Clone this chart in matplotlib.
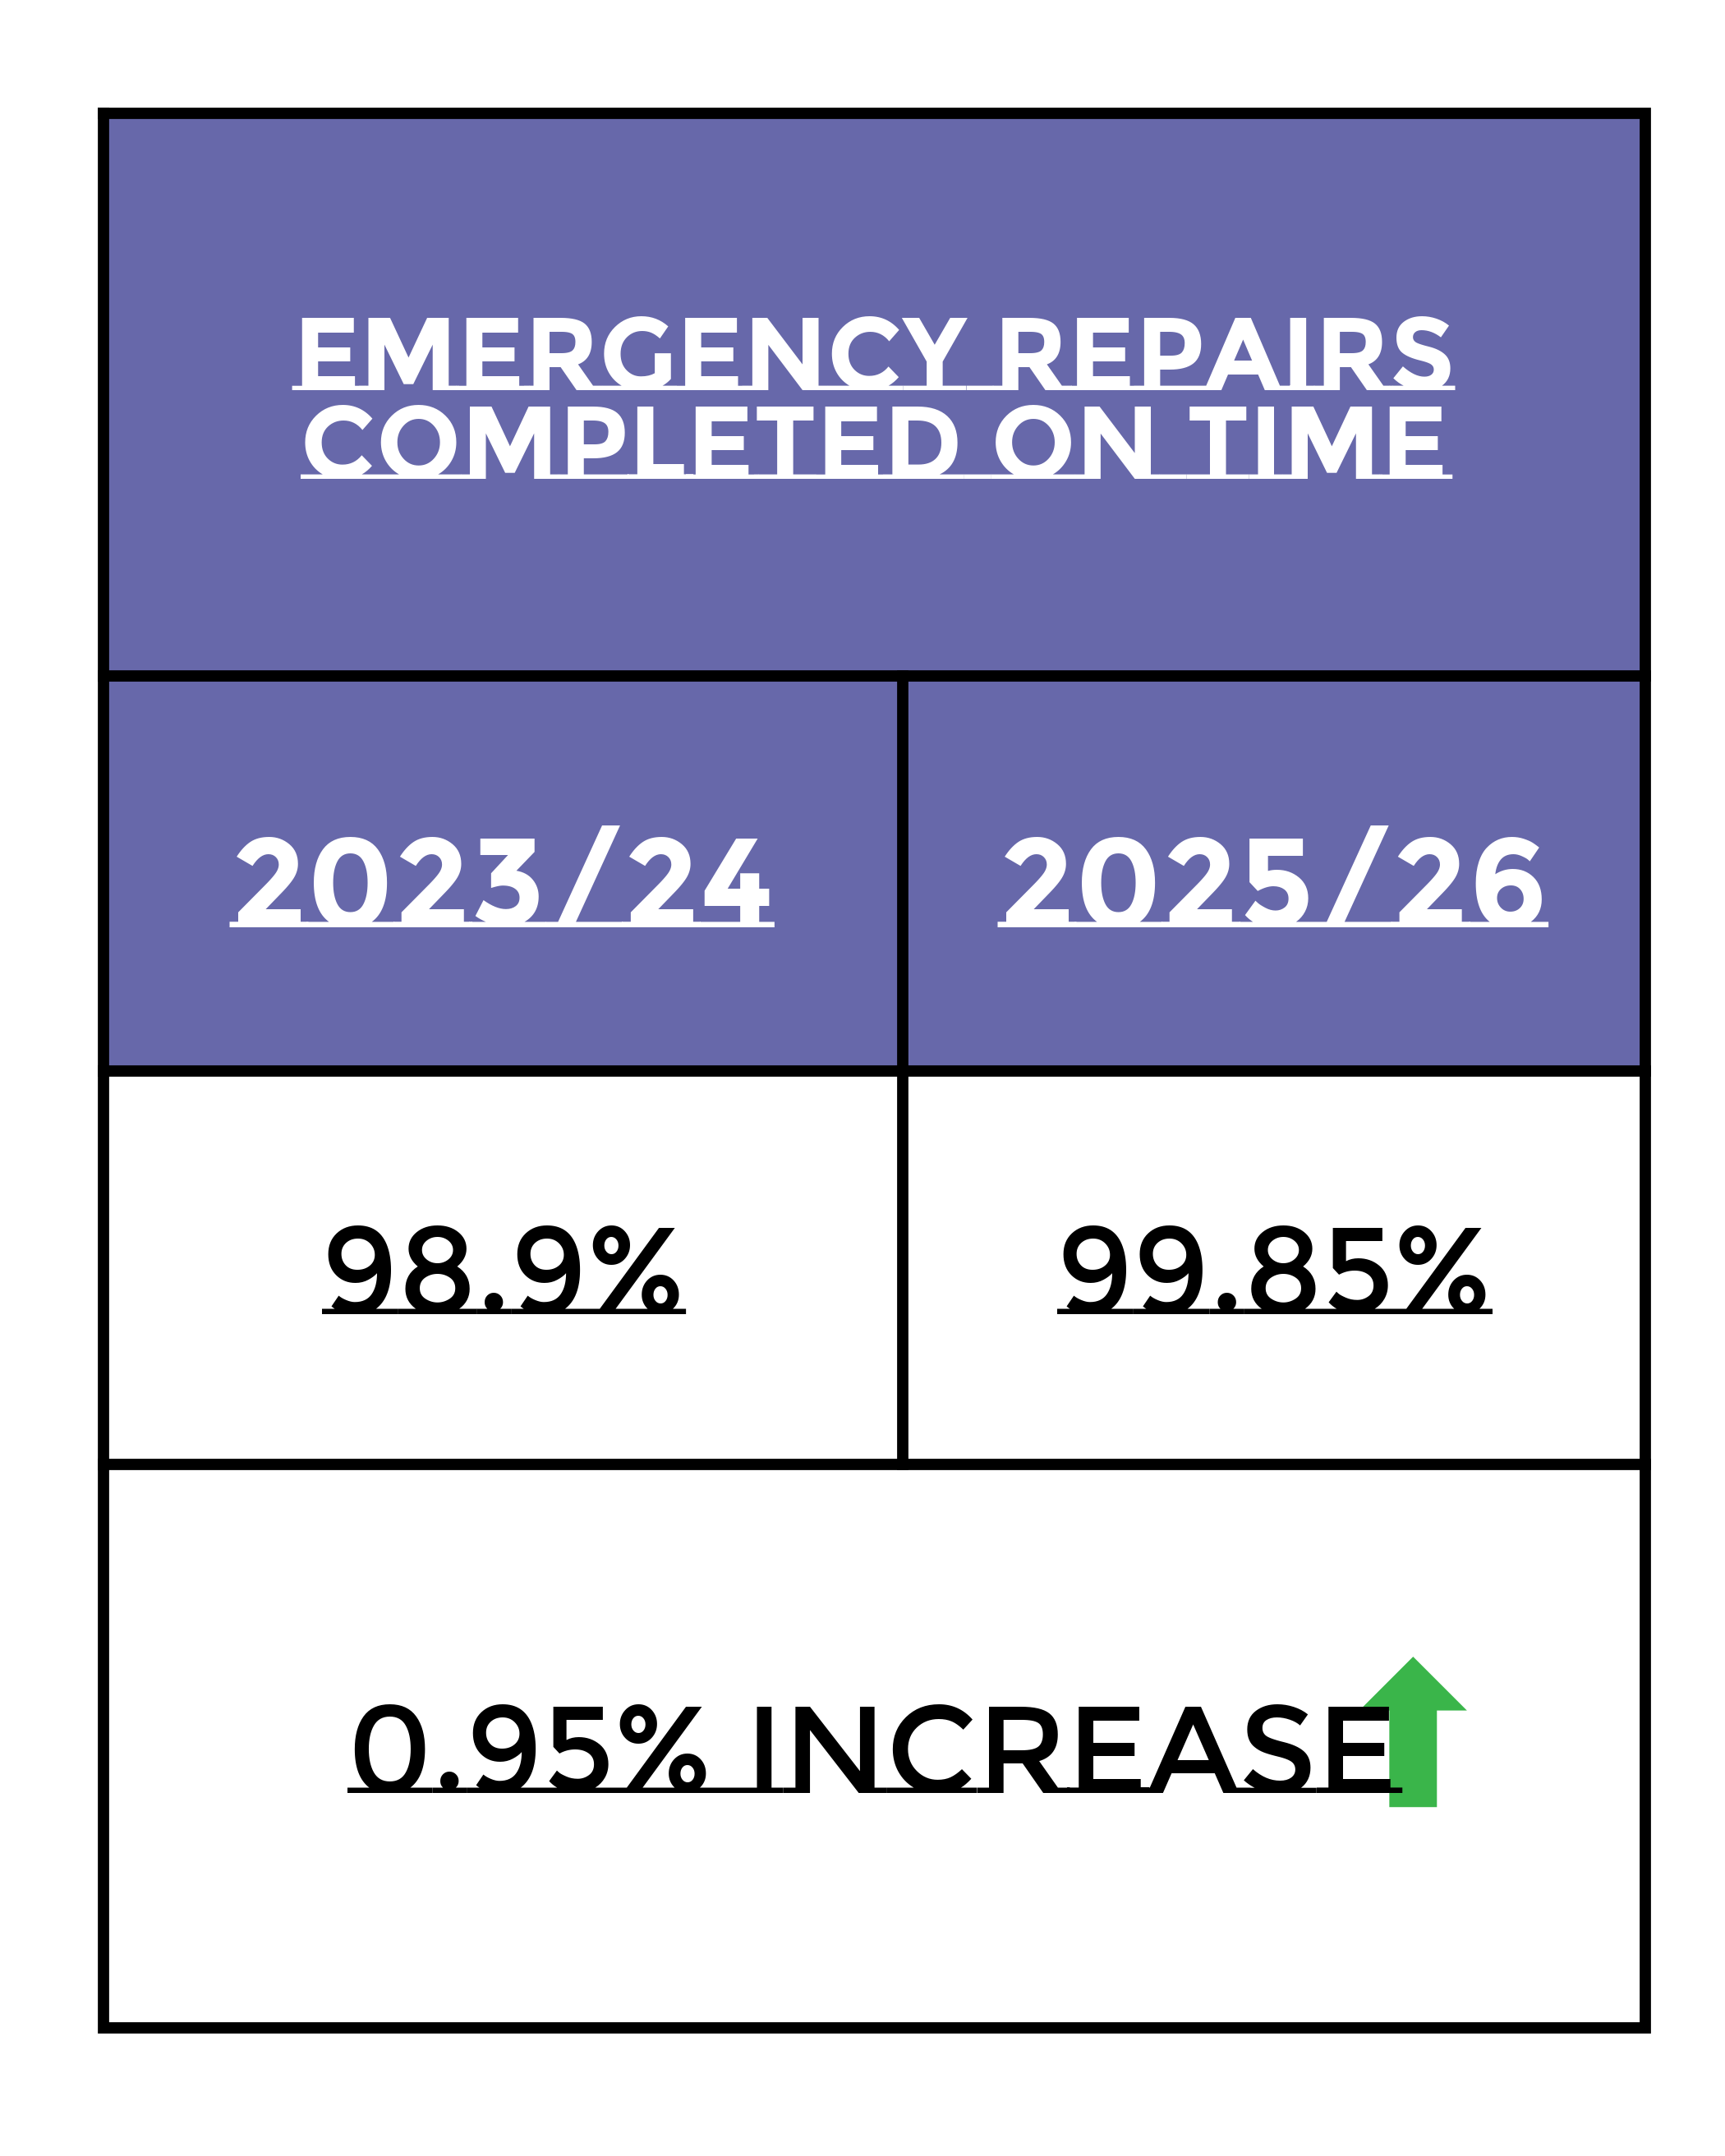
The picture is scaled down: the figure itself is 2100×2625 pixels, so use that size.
import matplotlib
matplotlib.use("Agg")
import matplotlib.pyplot as plt
from matplotlib.patches import Rectangle, Polygon
from matplotlib import font_manager as fm

title = "Emergency repairs\ncompleted on time"
years = ["2023/24", "2025/26"]
values = ["98.9%", "99.85%"]
change_text = "0.95% increase"

purple = "#6768AA"
green = "#3AB54A"

def weight_num(w):
    if isinstance(w, int):
        return w
    return {"thin": 100, "extra light": 200, "ultralight": 200, "light": 300, "normal": 400,
            "regular": 400, "book": 400, "medium": 500, "semibold": 600, "demibold": 600,
            "bold": 700, "extra bold": 800, "heavy": 900, "black": 900}.get(str(w).lower(), 400)

mont = [f for f in fm.fontManager.ttflist if "montserrat" in f.name.lower() and f.style == "normal"]
bold_fp = None
reg_fp = None
for f in mont:
    w = weight_num(f.weight)
    if 650 <= w <= 800 and "Variable" not in f.fname:
        bold_fp = fm.FontProperties(fname=f.fname)
    if w == 400 and "Variable" not in f.fname:
        reg_fp = fm.FontProperties(fname=f.fname)
if bold_fp is None:
    bold_fp = fm.FontProperties(family=["Open Sans", "DejaVu Sans"], weight="bold")
if reg_fp is None:
    reg_fp = fm.FontProperties(family=["Lato", "DejaVu Sans"], weight="normal")

fig = plt.figure(figsize=(7, 8.75), dpi=300)
ax = fig.add_axes([0, 0, 1, 1])
ax.set_xlim(0, 1250)
ax.set_ylim(1562, 0)
ax.axis("off")

L, R, M = 75, 1192, 654
T, Y1, Y2, Y3, B = 82, 490, 776, 1061, 1469
lw = 3.3

ax.add_patch(Rectangle((L, T), R - L, Y2 - T, color=purple, zorder=1))
ax.plot([L, R, R, L, L], [T, T, B, B, T], color="black", lw=lw, solid_joinstyle="miter", zorder=3)
for y in (Y1, Y2, Y3):
    ax.plot([L, R], [y, y], color="black", lw=lw, zorder=3)
ax.plot([M, M], [Y1, Y3], color="black", lw=lw, zorder=3)

bp = bold_fp.copy(); bp.set_size(30)
ax.text((L + R) / 2, 288, title, ha="center", va="center", color="white",
        fontproperties=bp, linespacing=1.2)
xs = [(L + M) / 2, (M + R) / 2]
bp2 = bold_fp.copy(); bp2.set_size(37)
rp = reg_fp.copy(); rp.set_size(36)
for x, yr, v in zip(xs, years, values):
    ax.text(x, 635, yr, ha="center", va="center", color="white", fontproperties=bp2)
    ax.text(x, 920, v, ha="center", va="center", color="black", fontproperties=rp)

ax.text(632, 1267, change_text, ha="center", va="center", color="black", fontproperties=rp)
arrow = [(988, 1238), (1024, 1202), (1060, 1238), (1040, 1238), (1040, 1308),
         (1008, 1308), (1008, 1238)]
ax.add_patch(Polygon(arrow, closed=True, color=green, zorder=2))

fig.savefig("out.png", dpi=300, facecolor="white")
